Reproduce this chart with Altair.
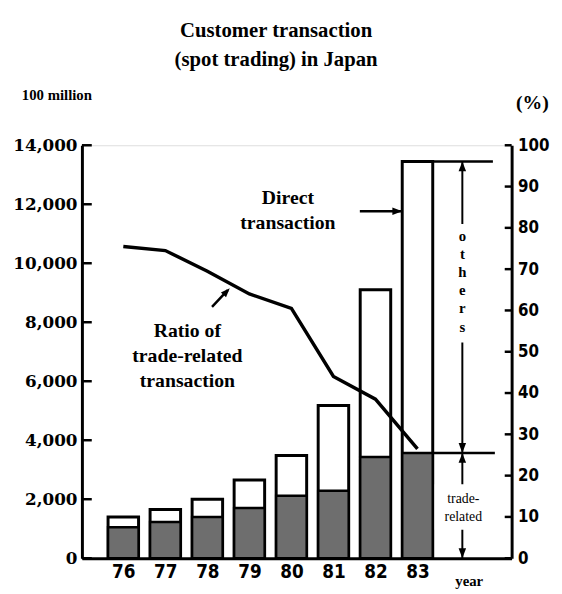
import altair as alt
import pandas as pd

# ---- data ----
years = [76, 77, 78, 79, 80, 81, 82, 83]
total = [1400, 1650, 2000, 2650, 3480, 5180, 9100, 13450]      # 100 million (direct transaction)
trade = [1050, 1230, 1400, 1700, 2120, 2290, 3430, 3570]       # trade-related part
ratio = [75.5, 74.5, 69.5, 64.0, 60.5, 44.0, 38.5, 26.5]       # % trade-related
left_ticks = [0, 2000, 4000, 6000, 8000, 10000, 12000, 14000]
right_ticks = [0, 10, 20, 30, 40, 50, 60, 70, 80, 90, 100]

W, H = 436, 419
HW = 0.363  # half bar width in year units

df = pd.DataFrame({"year": years, "total": total, "trade": trade, "ratio": ratio})
df["x0"] = df["year"] - HW
df["x1"] = df["year"] + HW
last = df[df["year"] == years[-1]].reset_index(drop=True)
one = pd.DataFrame({"k": [0]})

xs = alt.Scale(domain=[75.015, 85.24], nice=False, zero=False)
ly = alt.Scale(domain=[0, 14000], nice=False)
ry = alt.Scale(domain=[0, 100], nice=False)

SERIF = "Liberation Serif"
NARROW = "Liberation Sans Narrow, DejaVu Sans Condensed, Liberation Sans"

x_axis = alt.Axis(values=years, format="d", title=None, ticks=False, grid=False,
                  domainColor="black", domainWidth=3, labelFont=NARROW,
                  labelFontWeight="bold", labelFontSize=19, labelColor="black",
                  labelPadding=5, labelFlush=False)
left_axis = alt.Axis(values=left_ticks, format=",.0f", title=None, ticks=False, grid=False,
                     domainColor="black", domainWidth=3, labelFont="DejaVu Serif",
                     labelFontWeight="bold", labelFontSize=17, labelColor="black",
                     labelPadding=5, labelOverlap=False, orient="left")
right_axis = alt.Axis(values=right_ticks, format="d", title=None, ticks=False, grid=False,
                      domainColor="black", domainWidth=3, labelFont=NARROW,
                      labelFontWeight="bold", labelFontSize=17, labelColor="black",
                      labelPadding=6, labelOverlap=False, orient="right")

def X(field):
    return alt.X(field, scale=xs, axis=x_axis)

def LY(field):
    return alt.Y(field, scale=ly, axis=left_axis)

def RY(field):
    return alt.Y(field, scale=ry, axis=right_axis)

UP = "M0,0L-0.38,1L0.38,1Z"
DOWN = "M0,0L-0.38,-1L0.38,-1Z"
RIGHT = "M0,0L-1,-0.38L-1,0.38Z"

# ---- left-scale group ----
total_bar = alt.Chart(df).mark_rect(fill="white", stroke="black", strokeWidth=3).encode(
    x=X("x0:Q"), x2="x1:Q", y=LY("total:Q"), y2=alt.datum(0))
trade_bar = alt.Chart(df).mark_rect(fill="#6e6e6e", stroke="black", strokeWidth=2.5).encode(
    x=X("x0:Q"), x2="x1:Q", y=LY("trade:Q"), y2=alt.datum(0))
lticks = alt.Chart(pd.DataFrame({"t": left_ticks})).mark_rule(color="black", strokeWidth=2.5).encode(
    y=LY("t:Q"), x=alt.value(0), x2=alt.value(10))

top_rule = alt.Chart(last).mark_rule(color="black", strokeWidth=2.5).encode(
    x=X("x1:Q"), x2=alt.value(417), y=LY("total:Q"))
mid_rule = alt.Chart(last).mark_rule(color="black", strokeWidth=2.5).encode(
    x=X("x1:Q"), x2=alt.value(419), y=LY("trade:Q"))
others_arrow = alt.Chart(last).mark_rule(color="black", strokeWidth=2).encode(
    x=alt.value(386), y=LY("trade:Q"), y2="total:Q")
trade_arrow = alt.Chart(last).mark_rule(color="black", strokeWidth=2).encode(
    x=alt.value(386), y=LY("trade:Q"), y2=alt.datum(0))
heads_up = alt.Chart(pd.DataFrame({"v": [total[-1], trade[-1]]})).mark_point(
    shape=UP, filled=True, size=400, color="black", opacity=1).encode(
    x=alt.value(386), y=LY("v:Q"))
heads_down = alt.Chart(pd.DataFrame({"v": [trade[-1], 0]})).mark_point(
    shape=DOWN, filled=True, size=400, color="black", opacity=1).encode(
    x=alt.value(386), y=LY("v:Q"))
direct_rule = alt.Chart(last).mark_rule(color="black", strokeWidth=2.5).encode(
    x=X("x0:Q"), x2=alt.value(282), y=alt.value(67))
direct_head = alt.Chart(last).mark_point(shape=RIGHT, filled=True, size=400, color="black", opacity=1).encode(
    x=X("x0:Q"), y=alt.value(67))

def box(x, x2, y, y2):
    return alt.Chart(one).mark_rect(fill="white").encode(
        x=alt.value(x), x2=alt.value(x2), y=alt.value(y), y2=alt.value(y2))

boxes = [box(374, 398, 80, 200), box(358, 416, 344, 390)]

def txt(lines, x, y, size, weight="bold", font=SERIF, lh=25, align="center"):
    return alt.Chart(one).mark_text(text=lines, font=font, fontSize=size, fontWeight=weight,
                                    lineHeight=lh, align=align, baseline="middle", color="black").encode(
        x=alt.value(x), y=alt.value(y))

texts = [
    txt(["Customer transaction", "(spot trading) in Japan"], 197, -116, 21, lh=30),
    txt(["100 million"], -61, -51, 15, align="left"),
    txt(["(%)"], 457, -43, 20),
    txt(["Direct", "transaction"], 209, 54, 20),
    txt(["Ratio of", "trade-related", "transaction"], 107, 189, 20),
    txt(["o", "t", "h", "e", "r", "s"], 386, 92, 15, lh=18.4),
    txt(["trade-", "related"], 387, 359, 14, weight="normal", lh=18),
    txt(["year"], 393, 442, 15),
]

ratio_rule = alt.Chart(one).mark_rule(color="black", strokeWidth=2.5).encode(
    x=alt.value(132), x2=alt.value(148), y=alt.value(164), y2=alt.value(147))
ratio_head = alt.Chart(one).mark_point(shape=UP, filled=True, size=350, color="black", opacity=1, angle=43).encode(
    x=alt.value(150), y=alt.value(145))

left_group = alt.layer(total_bar, trade_bar, lticks, top_rule, mid_rule, others_arrow, trade_arrow,
                       *boxes, heads_up, heads_down, direct_rule, direct_head, ratio_rule, ratio_head, *texts)

# ---- right-scale group ----
line = alt.Chart(df).mark_line(color="black", strokeWidth=3.5).encode(
    x=X("year:Q"), y=RY("ratio:Q"))
rticks = alt.Chart(pd.DataFrame({"t": right_ticks})).mark_rule(color="black", strokeWidth=2.5).encode(
    y=RY("t:Q"), x=alt.value(429), x2=alt.value(436))
right_group = alt.layer(line, rticks)

chart = alt.layer(left_group, right_group).resolve_scale(y="independent").properties(
    width=W, height=H,
    autosize=alt.AutoSizeParams(type="none"),
    padding={"left": 75, "top": 135, "right": 43, "bottom": 30},
).configure_view(stroke=None).configure(background="white")

chart.save("out.html", embed_options={"renderer": "svg", "actions": False})
